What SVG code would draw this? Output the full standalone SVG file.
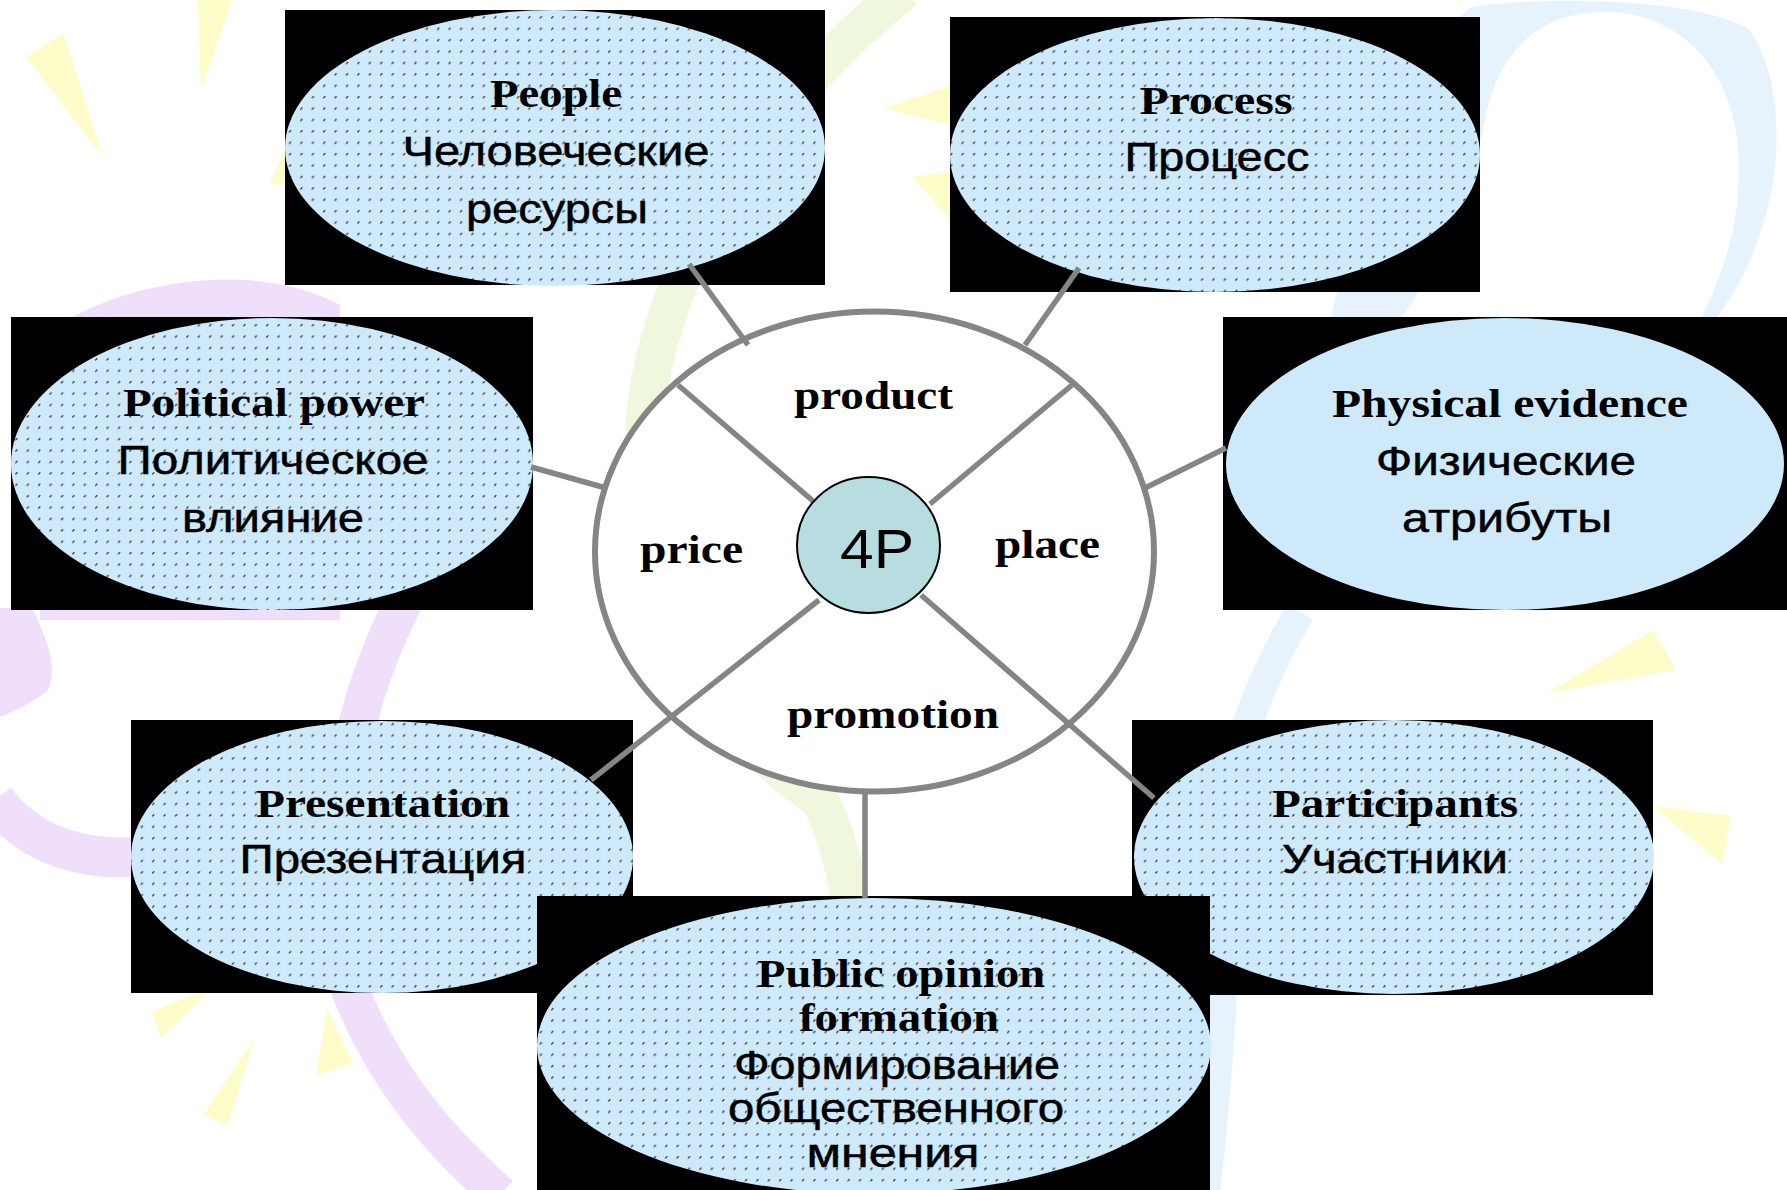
<svg xmlns="http://www.w3.org/2000/svg" width="1787" height="1190" viewBox="0 0 1787 1190">
<style>
.box{fill:#000}
.ell{fill:url(#dots);stroke:none}
.solid{fill:#cde9fa;stroke:none}
.en{font-family:"Liberation Serif","Times New Roman",serif;font-weight:bold;font-size:41px;fill:#000;text-anchor:middle}
.ru{font-family:"Liberation Sans",Arial,sans-serif;font-size:40px;fill:#000;stroke:#000;stroke-width:0.5;text-anchor:middle}
.lbl{font-family:"Liberation Serif","Times New Roman",serif;font-weight:bold;font-size:41px;fill:#000;text-anchor:middle}
.conn line{stroke:#858585;stroke-width:5.5;stroke-linecap:butt}
.yel{fill:#fdfdc9}
.lav{fill:none;stroke:#efdffb}
.grn{fill:none;stroke:#eff8dc}
.blu{fill:none;stroke:#e6f3fd}
</style>
<defs>
<pattern id="dots" patternUnits="userSpaceOnUse" width="11.4" height="11.4">
<rect width="11.4" height="11.4" fill="#cde9fa"/>
<line x1="4" y1="7" x2="6" y2="5" stroke="#2a2a2a" stroke-width="1.3"/>
</pattern>
</defs>
<rect width="1787" height="1190" fill="#fff"/>
<g id="background">
<polygon class="yel" points="26,57 63,33 103,157"/>
<polygon class="yel" points="198,0 232,0 201,90"/>
<polygon class="yel" points="270,182 286,148 286,186"/>
<polygon class="yel" points="883,108 952,85 952,125"/>
<polygon class="yel" points="912,177 952,171 952,222"/>
<polygon class="yel" points="1547,693 1653,630 1676,670"/>
<polygon class="yel" points="1653,806 1731,816 1722,864"/>
<polygon class="yel" points="152,1012 214,986 161,1038"/>
<polygon class="yel" points="203,1115 255,1038 228,1125"/>
<polygon class="yel" points="327,1008 353,1064 316,1075"/>
<path d="M40 340 C100 285 250 255 340 305 L340 620 L40 620 Z" fill="#efdffb"/>
<path d="M0 608 L32 608 C48 640 58 670 48 690 C30 705 12 712 0 717 Z" fill="#efdffb"/>
<path class="lav" stroke-width="40" d="M-5 800 C30 845 80 860 135 857"/>
<path class="lav" stroke-width="38" d="M410 590 C340 720 320 880 350 990 C390 1090 450 1150 500 1195"/>
<path class="grn" stroke-width="38" d="M905 -10 C780 90 680 230 650 380 C620 560 700 720 820 800 C835 830 845 870 850 900"/>
<path class="blu" stroke-width="30" d="M1300 612 C1260 680 1225 760 1225 860 C1225 1000 1215 1100 1205 1195"/>
<path fill="#e6f3fd" d="M1330 320 C1360 200 1400 60 1470 8 C1520 -4 1700 -4 1750 30 C1790 90 1790 220 1715 320 L1700 320 C1730 260 1742 210 1738 150 C1734 70 1680 14 1610 12 C1540 10 1500 50 1486 115 C1470 200 1430 280 1400 320 Z"/>
</g>
<g id="node-people">
<rect class="box" x="285" y="10" width="540" height="275"/>
<ellipse class="ell" cx="555" cy="148" rx="270" ry="138"/>
<text class="en" x="556" y="107" textLength="132" lengthAdjust="spacingAndGlyphs">People</text>
<text class="ru" x="556" y="165" textLength="307" lengthAdjust="spacingAndGlyphs">Человеческие</text>
<text class="ru" x="557" y="223" textLength="182" lengthAdjust="spacingAndGlyphs">ресурсы</text>
</g>
<g id="node-process">
<rect class="box" x="950" y="17" width="530" height="275"/>
<ellipse class="ell" cx="1215" cy="155" rx="265" ry="137"/>
<text class="en" x="1216" y="114" textLength="153" lengthAdjust="spacingAndGlyphs">Process</text>
<text class="ru" x="1217" y="171" textLength="185" lengthAdjust="spacingAndGlyphs">Процесс</text>
</g>
<g id="node-political">
<rect class="box" x="11" y="317" width="522" height="293"/>
<ellipse class="ell" cx="272" cy="464" rx="261" ry="146"/>
<text class="en" x="274" y="416" textLength="302" lengthAdjust="spacingAndGlyphs">Political power</text>
<text class="ru" x="273" y="474" textLength="311" lengthAdjust="spacingAndGlyphs">Политическое</text>
<text class="ru" x="273" y="532" textLength="182" lengthAdjust="spacingAndGlyphs">влияние</text>
</g>
<g id="node-physical">
<rect class="box" x="1223" y="317" width="564" height="293"/>
<ellipse class="solid" cx="1505" cy="464" rx="279" ry="146"/>
<text class="en" x="1510" y="417" textLength="356" lengthAdjust="spacingAndGlyphs">Physical evidence</text>
<text class="ru" x="1506" y="475" textLength="260" lengthAdjust="spacingAndGlyphs">Физические</text>
<text class="ru" x="1507" y="532" textLength="210" lengthAdjust="spacingAndGlyphs">атрибуты</text>
</g>
<g id="node-presentation">
<rect class="box" x="131" y="720" width="502" height="273"/>
<ellipse class="ell" cx="382" cy="857" rx="251" ry="136"/>
<text class="en" x="383" y="817" textLength="254" lengthAdjust="spacingAndGlyphs">Presentation</text>
<text class="ru" x="383" y="873" textLength="287" lengthAdjust="spacingAndGlyphs">Презентация</text>
</g>
<g id="node-participants">
<rect class="box" x="1132" y="720" width="521" height="275"/>
<ellipse class="ell" cx="1394" cy="857" rx="260" ry="137"/>
<text class="en" x="1395" y="817" textLength="246" lengthAdjust="spacingAndGlyphs">Participants</text>
<text class="ru" x="1395" y="873" textLength="226" lengthAdjust="spacingAndGlyphs">Участники</text>
</g>
<g id="node-public">
<rect class="box" x="537" y="896" width="673" height="294"/>
<ellipse class="ell" cx="874" cy="1046" rx="337" ry="148"/>
<text class="en" x="901" y="987" textLength="288" lengthAdjust="spacingAndGlyphs">Public opinion</text>
<text class="en" x="899" y="1031" textLength="200" lengthAdjust="spacingAndGlyphs">formation</text>
<text class="ru" x="897" y="1079" textLength="326" lengthAdjust="spacingAndGlyphs">Формирование</text>
<text class="ru" x="896" y="1122" textLength="336" lengthAdjust="spacingAndGlyphs">общественного</text>
<text class="ru" x="893" y="1167" textLength="173" lengthAdjust="spacingAndGlyphs">мнения</text>
</g>
<g id="node-4p-wheel">
<ellipse cx="874.5" cy="551.5" rx="279.5" ry="240" fill="#fff" stroke="#858585" stroke-width="6"/>
<text class="lbl" x="873.5" y="409" textLength="159" lengthAdjust="spacingAndGlyphs">product</text>
<text class="lbl" x="691.5" y="563" textLength="103" lengthAdjust="spacingAndGlyphs">price</text>
<text class="lbl" x="1047.5" y="558" textLength="105" lengthAdjust="spacingAndGlyphs">place</text>
<text class="lbl" x="893" y="728" textLength="212" lengthAdjust="spacingAndGlyphs">promotion</text>
</g>
<g id="connectors" class="conn">
<line x1="689" y1="264" x2="748" y2="345"/>
<line x1="1079" y1="268" x2="1025" y2="345"/>
<line x1="531" y1="467" x2="606" y2="488"/>
<line x1="1226" y1="448" x2="1145" y2="488"/>
<line x1="865" y1="791" x2="865" y2="898"/>
<line x1="678" y1="385" x2="813" y2="501"/>
<line x1="1072" y1="385" x2="930" y2="504"/>
<line x1="819" y1="600" x2="591" y2="780"/>
<line x1="921" y1="595" x2="1154" y2="798"/>
</g>
<g id="node-4p">
<ellipse cx="868.5" cy="545" rx="71.5" ry="68" fill="#b8dde1" stroke="#000" stroke-width="2"/>
<text x="877" y="568" font-family="Liberation Sans, Arial, sans-serif" font-size="55" text-anchor="middle" textLength="74" lengthAdjust="spacingAndGlyphs" fill="#000">4P</text>
</g>
</svg>
